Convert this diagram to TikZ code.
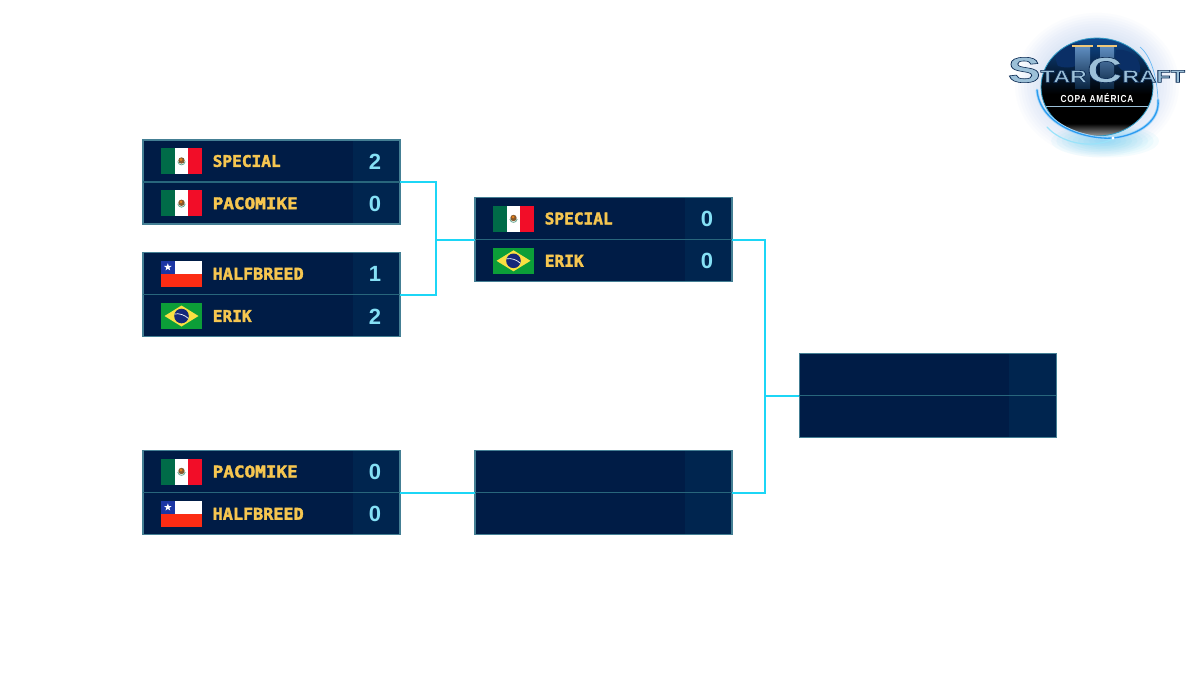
\documentclass[tikz,border=0pt]{standalone}
\usepackage{fontspec}
\setmainfont{Liberation Sans}
\newfontfamily\namefont{DejaVu Sans Mono}[BoldFont={* Bold}]
\usetikzlibrary{calc}
\definecolor{panelbg}{HTML}{001C46}
\definecolor{scorebg}{HTML}{00254F}
\definecolor{edgeout}{HTML}{447F94}
\definecolor{edgein}{HTML}{28667C}
\definecolor{conn}{HTML}{1CD6F6}
\definecolor{gold}{HTML}{F6C650}
\definecolor{scoretxt}{HTML}{85E0F5}
\definecolor{mxg}{HTML}{006B48}
\definecolor{mxr}{HTML}{F20D28}
\definecolor{clb}{HTML}{1B36A4}
\definecolor{clr}{HTML}{FC2C14}
\definecolor{brg}{HTML}{0C9E38}
\definecolor{bry}{HTML}{FAE042}
\definecolor{brb}{HTML}{16287A}
\definecolor{glowc}{HTML}{6E9BE0}
\definecolor{flarec}{HTML}{35C8F5}
\definecolor{ringc}{HTML}{2A9CF0}
\definecolor{globetop}{HTML}{0F4C94}
\definecolor{globeland}{HTML}{0A2F66}
\definecolor{steel}{HTML}{9CC0D8}
\definecolor{capgold}{HTML}{F0C878}
\definecolor{pillar}{HTML}{1C5FA8}
\tikzset{
  panelbox/.style={fill=panelbg,rectangle,minimum width=257pt,minimum height=84pt,inner sep=0pt,outer sep=0pt,anchor=north west},
  scorecol/.style={fill=scorebg,rectangle,minimum width=47pt,minimum height=84pt,inner sep=0pt,outer sep=0pt,anchor=north west},
  divider/.style={draw=edgein,line width=1.5pt},
  connline/.style={draw=conn,line width=2pt},
  nametxt/.style={text=gold,anchor=west,inner sep=0pt},
  scoretext/.style={font=\bfseries\fontsize{22}{22}\selectfont,text=scoretxt,anchor=center,inner sep=0pt},
}
\newcommand{\matchpanel}[3]{%
  \node[panelbox] (#1) at (#2,#3) {};
  \node[scorecol] (#1s) at (#2+210,#3) {};
  \draw[edgeout,line width=1.5pt] (#1.north west) rectangle (#1.south east);
  \draw[divider] (#1.west) -- (#1.east);
}
\newcommand{\mexflag}[2]{%
  \begin{scope}[shift={(#1,#2)}]
    \fill[white] (0,0) rectangle (41,26);
    \fill[mxg] (0,0) rectangle (13.7,26);
    \fill[mxr] (27.3,0) rectangle (41,26);
    \fill[brown!70!black] (20.5,12.5) circle (3.2);
    \fill[orange!60!brown] (20,11.5) circle (1.5);
    \draw[mxg!60!white,line width=.8pt] (16.8,13.5) .. controls (17.5,18) and (23.5,18) .. (24.2,13.5);
  \end{scope}
}
\newcommand{\chiflag}[2]{%
  \begin{scope}[shift={(#1,#2)}]
    \fill[white] (0,0) rectangle (41,13);
    \fill[clr] (0,13) rectangle (41,26);
    \fill[clb] (0,0) rectangle (13.7,13);
    \fill[white,shift={(6.85,6.5)}] (-90:4) -- (-54:1.6) -- (-18:4) -- (18:1.6) -- (54:4) -- (90:1.6) -- (126:4) -- (162:1.6) -- (198:4) -- (234:1.6) -- cycle;
  \end{scope}
}
\newcommand{\braflag}[2]{%
  \begin{scope}[shift={(#1,#2)}]
    \fill[brg] (0,0) rectangle (41,26);
    \fill[bry] (3.5,13) -- (20.5,2.5) -- (37.5,13) -- (20.5,23.5) -- cycle;
    \fill[brb] (20.5,13) circle (7.3);
    \draw[white,line width=.7pt] (13.6,11) .. controls (18,10) and (24,12) .. (27.4,15.5);
  \end{scope}
}
\newcommand{\goldon}{\special{pdf:code 2 Tr 0.22 w 0.965 0.776 0.314 RG}}
\newcommand{\strokeoff}{\special{pdf:code 0 Tr}}
% row: id, panel x, panel y, row 0/1, flag macro, name, name width, score
\newcommand{\playerrow}[8]{%
  \pgfmathsetmacro{\ry}{#3+#4*42.3}
  #5{#2+18}{\ry+8}
  \node[nametxt] (#1n) at (#2+69.5,\ry+21) {\resizebox{#7pt}{11.9pt}{\goldon\namefont\bfseries #6\strokeoff}};
  \node[scoretext] (#1v) at (#2+232,\ry+21.5) {#8};
}
\newcommand{\strokeon}{\special{pdf:code 2 Tr 0.35 w 0.04 0.16 0.32 RG}}
\begin{document}
\begin{tikzpicture}[x=1pt,y=-1pt]
\useasboundingbox (0,0) rectangle (1200,675);
\fill[white] (0,0) rectangle (1200,675);

\matchpanel{a}{143}{140}
\matchpanel{b}{143}{252.7}
\matchpanel{c}{143}{450.5}
\matchpanel{d}{475}{197.5}
\matchpanel{e}{475}{450.5}
\matchpanel{f}{799.3}{353.7}

\coordinate (j1) at (436.2,0 |- d.west);
\coordinate (j2) at (765.4,0 |- f.west);

\draw[connline] (a.east) -| (j1);
\draw[connline] (b.east) -| (j1);
\draw[connline] (j1) -- (d.west);
\draw[connline] (c.east) -- (e.west);
\draw[connline] (d.east) -| (j2);
\draw[connline] (e.east) -| (j2);
\draw[connline] (j2) -- (f.west);

\playerrow{a1}{143}{140}{0}{\mexflag}{SPECIAL}{68}{2}
\playerrow{a2}{143}{140}{1}{\mexflag}{PACOMIKE}{85}{0}
\playerrow{b1}{143}{252.7}{0}{\chiflag}{HALFBREED}{91}{1}
\playerrow{b2}{143}{252.7}{1}{\braflag}{ERIK}{39}{2}
\playerrow{c1}{143}{450.5}{0}{\mexflag}{PACOMIKE}{85}{0}
\playerrow{c2}{143}{450.5}{1}{\chiflag}{HALFBREED}{91}{0}
\playerrow{d1}{475}{197.5}{0}{\mexflag}{SPECIAL}{68}{0}
\playerrow{d2}{475}{197.5}{1}{\braflag}{ERIK}{39}{0}

% ---- logo ----
\begin{scope}
  \foreach \r in {82,79,...,55} {
    \fill[glowc,opacity=.022] (1097,85) ellipse ({\r} and {\r*.88});
  }
  \foreach \r in {30,27,...,3} {
    \fill[flarec,opacity=.05] (1105,141) ellipse ({\r*1.8} and {\r*.55});
  }
  \begin{scope}
    \clip (1097,87) ellipse (56 and 49);
    \shade[top color=globetop, bottom color=black] (1040,36) rectangle (1154,94);
    \fill[black] (1040,93.5) rectangle (1154,124);
    \shade[top color=black, bottom color=black!35] (1040,123.5) rectangle (1154,137);
    \fill[globeland] (1062,48) .. controls (1075,40) and (1086,44) .. (1086,54) .. controls (1084,66) and (1070,70) .. (1058,66) .. controls (1054,58) and (1056,52) .. (1062,48) -- cycle;
    \fill[globeland] (1116,50) .. controls (1130,48) and (1142,58) .. (1140,72) .. controls (1128,76) and (1112,70) .. (1116,50) -- cycle;
    \shade[top color=pillar!70!white, bottom color=pillar!40!black] (1075,46) rectangle (1090,88);
    \shade[top color=pillar!70!white, bottom color=pillar!40!black] (1100,46) rectangle (1114,88);
    \fill[capgold] (1072,44.5) rectangle (1093,47);
    \fill[capgold] (1097,44.5) rectangle (1117,47);
    \draw[steel,line width=.5pt] (1035,106.5) -- (1160,106.5);
  \end{scope}
  \draw[cyan!55!teal,line width=.8pt] (1097,87) ellipse (56 and 49);
  % ring
  \draw[ringc!40!white,line width=3pt,line cap=round] (1037,90) .. controls (1040,125) and (1085,140) .. (1113,138) .. controls (1140,135) and (1160,120) .. (1158,100);
  \draw[ringc,line width=1.3pt,line cap=round] (1037,90) .. controls (1040,125) and (1085,140) .. (1113,138) .. controls (1140,135) and (1160,120) .. (1158,100);
  \draw[ringc!70!white,line width=.7pt] (1158,100) .. controls (1157,75) and (1150,55) .. (1140,47);
  \draw[flarec!50!white,line width=1.2pt,line cap=round] (1047,127) .. controls (1060,142) and (1090,150) .. (1113,139);
  \fill[white] (1113,138) circle (1.6);
  % wordmark
  \node[inner sep=0pt,text=steel] (logoword) at (1096.5,70)
    {\resizebox{177pt}{25pt}{\strokeon\bfseries {\huge S}TAR{\huge C}RAFT\strokeoff}};
  \node[inner sep=0pt,text=white] (logosub) at (1097,98)
    {\resizebox{73pt}{9pt}{\addfontfeature{LetterSpace=10}\bfseries COPA AMÉRICA}};
\end{scope}
\end{tikzpicture}
\end{document}
